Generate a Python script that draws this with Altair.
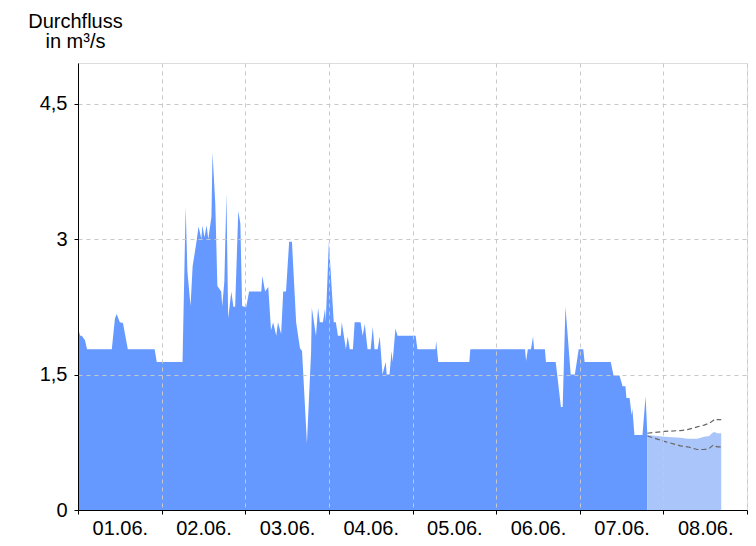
import altair as alt
import pandas as pd

days = ["01.06.", "02.06.", "03.06.", "04.06.", "05.06.", "06.06.", "07.06.", "08.06."]
y_ticks = [0, 1.5, 3, 4.5]

# observed discharge (hours since 01.06. 00:00, m³/s)
obs_hours = [0, 0.6, 1.1, 2, 2.6, 9.7, 10.6, 11.1, 12, 12.9, 14.3, 22, 22.6, 30,
             30.9, 31.4, 32.3, 32.9, 34, 34.6, 35.4, 35.7, 36.3, 36.9, 37.4, 38.3,
             38.6, 39.4, 40, 41.1, 41.4, 42, 42.6, 43.1, 44, 44.6, 45.1, 46, 46.6,
             47.1, 47.7, 48.3, 49.1, 52.6, 52.9, 53.7, 54.6, 55.4, 56, 56.9, 57.4,
             58.3, 58.9, 59.7, 60.6, 61.4, 62.6, 63.7, 64.3, 65.7, 66.9, 67.1, 68.3,
             68.9, 69.4, 70.3, 70.9, 71.1, 72, 73.4, 74, 74.6, 75.4, 75.7, 76.9,
             77.4, 78, 78.9, 79.4, 81.1, 81.7, 82.3, 83.1, 84, 84.6, 85.1, 86, 86.6,
             87.4, 88.3, 88.6, 89.4, 90, 90.3, 91.1, 91.7, 96.9, 97.4, 102.6, 102.8,
             103.4, 112.3, 112.6, 128.3, 128.6, 129.1, 130, 130.6, 130.9, 134, 134.3,
             137.1, 138.6, 139.1, 139.9, 141.4, 142.6, 143.7, 145, 145.4, 152.9,
             153.7, 155.4, 156.3, 157.1, 157.4, 158.3, 158.9, 159.1, 159.7, 162,
             162.9, 163.4]
obs_values = [2.02, 1.93, 1.93, 1.88, 1.78, 1.78, 2.12, 2.17, 2.08, 2.07, 1.78, 1.78, 1.64, 1.64,
              3.36, 2.64, 2.26, 2.70, 2.97, 3.14, 3.00, 3.15, 3.02, 3.15, 3.00, 3.25,
              3.96, 3.39, 2.48, 2.42, 2.26, 2.53, 3.50, 2.12, 2.42, 2.25, 2.25, 3.31, 3.17,
              2.26, 2.25, 2.25, 2.42, 2.42, 2.59, 2.42, 2.47, 1.99, 2.08, 1.93, 2.08,
              1.95, 2.42, 2.42, 2.97, 2.97, 2.08, 1.79, 1.76, 0.74, 1.75, 2.24, 1.93,
              2.24, 2.08, 2.08, 2.23, 2.08, 2.97, 2.08, 2.08, 1.93, 1.93, 2.08, 1.78,
              1.92, 1.78, 1.78, 2.08, 2.08, 1.93, 2.06, 1.78, 1.78, 2.03, 1.78, 1.78, 1.92,
              1.50, 1.64, 1.50, 1.50, 1.76, 1.64, 2.01, 1.93, 1.93, 1.78, 1.78, 1.87,
              1.64, 1.64, 1.78, 1.78, 1.65, 1.78, 1.78, 1.92, 1.78, 1.78, 1.64,
              1.64, 1.14, 1.14, 2.25, 1.50, 1.50, 1.78, 1.78, 1.64, 1.64,
              1.49, 1.49, 1.37, 1.37, 1.24, 1.24, 1.05, 1.12, 0.83, 0.83,
              1.26, 0.83]

# forecast
fc_hours = [163.4, 168.3, 172.9, 174.9, 177.7, 179.7, 181.1, 182.3, 182.9, 183.4, 184.6]
fc_values = [0.83, 0.81, 0.80, 0.79, 0.79, 0.81, 0.82, 0.86, 0.86, 0.85, 0.85]
fc_upper = [0.85, 0.87, 0.88, 0.89, 0.92, 0.94, 0.96, 0.99, 1.01, 1.00, 1.00]
fc_lower = [0.82, 0.76, 0.71, 0.70, 0.67, 0.67, 0.68, 0.72, 0.71, 0.70, 0.70]

obs = pd.DataFrame({"h": obs_hours, "q": obs_values})
fc = pd.DataFrame({"h": fc_hours, "q": fc_values, "lo": fc_lower, "hi": fc_upper})

FONT = "Liberation Sans"
x_scale = alt.Scale(domain=[0, 192], nice=False, zero=False)
y_scale = alt.Scale(domain=[0, 4.95], nice=False)

day_arr = "[" + ",".join("'" + d + "'" for d in days) + "]"
day_cond = {"condition": {"test": "datum.value % 24 === 0", "value": 1}, "value": 0}
day_cond2 = {"condition": {"test": "datum.value % 24 === 0", "value": 1}, "value": 0}

x_axis = alt.Axis(
    values=list(range(0, 193, 12)),
    title=None,
    labelExpr="datum.value % 24 === 12 ? " + day_arr + "[floor(datum.value / 24)] : ''",
    tickOpacity=day_cond,
    gridOpacity=day_cond2,
    grid=True,
    gridDash=[4, 4],
    gridColor="#c8c8c8",
    tickSize=4,
    tickColor="black",
    domainColor="black",
    labelPadding=4,
    labelFontSize=20,
    labelFont=FONT,
    labelColor="black",
    labelOverlap=False,
    labelFlush=False,
    zindex=1,
)

y_axis = alt.Axis(
    values=y_ticks,
    labelExpr="replace(format(datum.value, '~g'), '.', ',')",
    title=["Durchfluss", "in m³/s"],
    titleAngle=0,
    titleAlign="center",
    titleBaseline="alphabetic",
    titleX=-3,
    titleY=-36,
    titleFontSize=20,
    titleFontWeight="normal",
    titleFont=FONT,
    titleColor="black",
    titleLineHeight=20,
    grid=True,
    gridDash=[4, 4],
    gridColor="#c8c8c8",
    tickSize=4,
    tickColor="black",
    domainColor="black",
    labelPadding=7,
    labelFontSize=20,
    labelFont=FONT,
    labelColor="black",
    zindex=1,
)

area_obs = alt.Chart(obs).mark_area(color="#6699ff", interpolate="linear").encode(
    x=alt.X("h:Q", scale=x_scale, axis=x_axis),
    y=alt.Y("q:Q", scale=y_scale, axis=y_axis),
)

area_fc = alt.Chart(fc).mark_area(color="#aac5fa", interpolate="linear").encode(
    x=alt.X("h:Q", scale=x_scale),
    y=alt.Y("q:Q", scale=y_scale),
)

line_hi = alt.Chart(fc).mark_line(color="#666666", strokeDash=[5, 3], strokeWidth=1.2).encode(
    x=alt.X("h:Q", scale=x_scale),
    y=alt.Y("hi:Q", scale=y_scale),
)
line_lo = alt.Chart(fc).mark_line(color="#666666", strokeDash=[5, 3], strokeWidth=1.2).encode(
    x=alt.X("h:Q", scale=x_scale),
    y=alt.Y("lo:Q", scale=y_scale),
)

chart = alt.layer(area_obs, area_fc, line_hi, line_lo).properties(
    width=669,
    height=447,
    autosize=alt.AutoSizeParams(type="none"),
    padding={"left": 70, "top": 55, "right": 1, "bottom": 28},
).configure_view(
    stroke="black", strokeWidth=1.5
).configure(background="white")

chart.save("out.html", embed_options={"renderer": "svg", "actions": False})
